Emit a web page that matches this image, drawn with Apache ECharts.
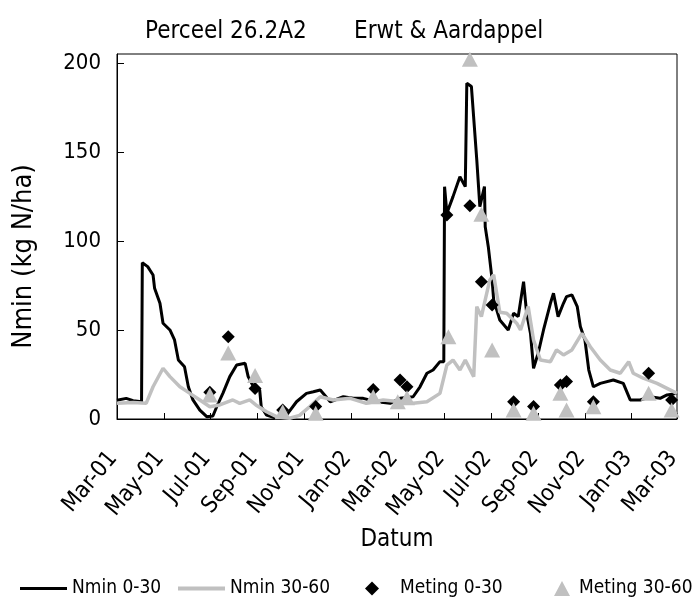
<!DOCTYPE html>
<html>
<head>
<meta charset="utf-8">
<script src="https://cdn.jsdelivr.net/npm/echarts@6/dist/echarts.min.js"></script>
<style>
html,body{margin:0;padding:0;background:#ffffff;}
#chart{width:698px;height:601px;}
</style>
</head>
<body>
<div id="chart"></div>
<script>
// x values are day offsets from 2001-03-01 (Excel date axis, Mar-01 .. Mar-03)
const tickLabels = ['Mar-01','May-01','Jul-01','Sep-01','Nov-01','Jan-02','Mar-02','May-02','Jul-02','Sep-02','Nov-02','Jan-03','Mar-03'];

const nmin030Days = [0,12,21,32,33,40,47,49,56,60,69,75,80,88,93,99,108,117,125,130,138,147,156,167,171,178,186,188,195,208,221,234,247,256,265,278,295,308,321,339,356,369,386,395,404,412,421,426,427,430,438,447,454,456,462,469,473,479,480,484,489,491,499,510,517,523,530,534,539,543,549,556,565,569,575,582,586,593,600,604,610,615,621,630,647,660,669,682,695,708,717,730];
const nmin030Vals = [10.5,11.6,10.3,9.7,87.8,85.6,80.9,73.4,65,53.8,50,44.4,33.1,29.3,18.1,10.7,5,1.3,1.7,6.9,14.4,23.8,30.3,31.3,23.8,18.1,16.3,6.9,2.2,0.4,2.2,9.7,14.4,15.3,16.3,9.7,12.5,11.6,11.6,9.7,8.8,11.6,12.5,18.1,25.7,27.5,32.2,32.2,130.5,115.6,124.9,136.1,130.5,188.6,186.7,145.5,119.3,130.5,108,96.8,78.1,66.9,55.6,50,59.4,57.5,77.1,59.4,48.1,28.5,36.9,50,65,70.6,57.5,65,68.7,69.7,63.1,51.9,44.4,27.5,18.1,20,21.9,20,10.7,10.7,12.5,11.6,13.5,14.4];

const nmin3060Days = [0,21,38,47,60,69,82,95,108,121,134,151,160,173,181,195,208,225,238,251,265,282,304,325,347,369,386,404,421,430,438,447,454,465,469,475,480,486,491,499,508,521,526,536,543,552,565,573,582,593,606,617,630,643,656,667,673,686,704,717,730];
const nmin3060Vals = [8.8,9.2,8.8,18.1,28.5,23.8,18.1,14.4,10.7,6.9,7.9,10.7,8.8,10.7,7.9,4.1,1.3,0.4,2,6.9,12.5,10.7,11.6,8.8,10.7,9.7,8.8,9.7,14.4,30.3,33.1,27.5,33.1,23.8,63.1,57.5,66.9,78.1,81,60,59.4,53.8,50,63.1,44.4,33.1,32.2,38.8,36,38.8,48.1,40.6,33.1,27.5,25.7,32.2,25.7,22.9,20,17.2,14.4];

const meting030Days = [121,145,180,216,259,334,369,378,430,460,475,489,517,543,578,586,621,693,723];
const meting030Vals = [15,46.2,17.2,5,7,16.5,21.9,18.1,114.6,119.8,77.1,64,9.7,7,19.1,21,9.7,25.7,10.7];

const meting3060Days = [121,145,180,216,259,334,366,378,432,460,475,489,517,543,578,586,621,693,723];
const meting3060Vals = [13.5,37,24.5,4.1,3.2,12.5,9.7,12,46.2,202,115,38.8,5,3.2,14.4,5,6.9,14.4,5];

const zip = (a, b) => a.map((d, i) => [d, b[i]]);

const FONT = "'Liberation Sans Narrow','Arial Narrow','DejaVu Sans Condensed',sans-serif";
const BLACK = '#000000';
const GREY = '#c0c0c0';

const chart = echarts.init(document.getElementById('chart'), null, {renderer: 'canvas'});

const option = {
  animation: false,
  backgroundColor: '#ffffff',
  textStyle: {fontFamily: FONT, color: BLACK},
  title: [
    {text: 'Perceel 26.2A2', left: 140, top: 15, textStyle: {fontFamily: FONT, fontSize: 24, fontWeight: 'normal', color: BLACK}},
    {text: 'Erwt & Aardappel', left: 349, top: 15, textStyle: {fontFamily: FONT, fontSize: 24, fontWeight: 'normal', color: BLACK}}
  ],
  grid: {left: 117, right: 21, top: 54, bottom: 182, show: true, borderColor: BLACK, borderWidth: 1, backgroundColor: 'transparent'},
  legend: [
    {data: ['Nmin 0-30'], left: 15, top: 574, icon: 'rect', itemWidth: 47, itemHeight: 3, itemGap: 0,
     textStyle: {fontFamily: FONT, fontSize: 19, color: BLACK}},
    {data: ['Nmin 30-60'], left: 173, top: 574, icon: 'rect', itemWidth: 47, itemHeight: 4, itemGap: 0,
     textStyle: {fontFamily: FONT, fontSize: 19, color: BLACK}},
    {data: ['Meting 0-30'], left: 360, top: 574, icon: 'diamond', itemWidth: 14, itemHeight: 14, itemGap: 0,
     textStyle: {fontFamily: FONT, fontSize: 19, color: BLACK, padding: [0,0,0,16]}},
    {data: ['Meting 30-60'], left: 549, top: 574, icon: 'triangle', itemWidth: 16, itemHeight: 15, itemGap: 0,
     textStyle: {fontFamily: FONT, fontSize: 19, color: BLACK, padding: [0,0,0,4]}}
  ],
  xAxis: {
    type: 'value', min: 0, max: 730, interval: 61,
    name: 'Datum', nameLocation: 'middle', nameGap: 90,
    nameTextStyle: {fontFamily: FONT, fontSize: 24, color: BLACK},
    axisLine: {show: true, lineStyle: {color: BLACK, width: 1}},
    axisTick: {show: true, inside: true, length: 6, lineStyle: {color: BLACK}},
    splitLine: {show: false},
    axisLabel: {
      interval: 0, rotate: 50, margin: 31, fontFamily: FONT, fontSize: 23, color: BLACK,
      padding: [0, 6, 0, 0],
      formatter: v => tickLabels[Math.round(v / 61)] || ''
    }
  },
  yAxis: {
    type: 'value', min: 0, max: 205, interval: 50,
    name: 'Nmin (kg N/ha)', nameLocation: 'middle', nameGap: 80, nameRotate: 90,
    nameTextStyle: {fontFamily: FONT, fontSize: 27, color: BLACK, padding: [0, 40, 0, 0]},
    axisLine: {show: true, lineStyle: {color: BLACK, width: 1}},
    axisTick: {show: true, inside: true, length: 7, lineStyle: {color: BLACK}},
    splitLine: {show: false},
    axisLabel: {margin: 16, fontFamily: FONT, fontSize: 22, color: BLACK, showMaxLabel: false}
  },
  series: [
    {name: 'Nmin 0-30', type: 'line', data: zip(nmin030Days, nmin030Vals), showSymbol: false, symbol: 'none',
     lineStyle: {color: BLACK, width: 3}, itemStyle: {color: BLACK}, z: 2},
    {name: 'Nmin 30-60', type: 'line', data: zip(nmin3060Days, nmin3060Vals), showSymbol: false, symbol: 'none',
     lineStyle: {color: GREY, width: 3.5}, itemStyle: {color: GREY}, z: 3},
    {name: 'Meting 0-30', type: 'scatter', data: zip(meting030Days, meting030Vals), symbol: 'diamond', symbolSize: 13,
     itemStyle: {color: BLACK, opacity: 1}, z: 4},
    {name: 'Meting 30-60', type: 'scatter', data: zip(meting3060Days, meting3060Vals), symbol: 'triangle', symbolSize: [16, 15],
     itemStyle: {color: GREY, opacity: 1}, z: 5}
  ]
};
chart.setOption(option);
</script>
</body>
</html>
